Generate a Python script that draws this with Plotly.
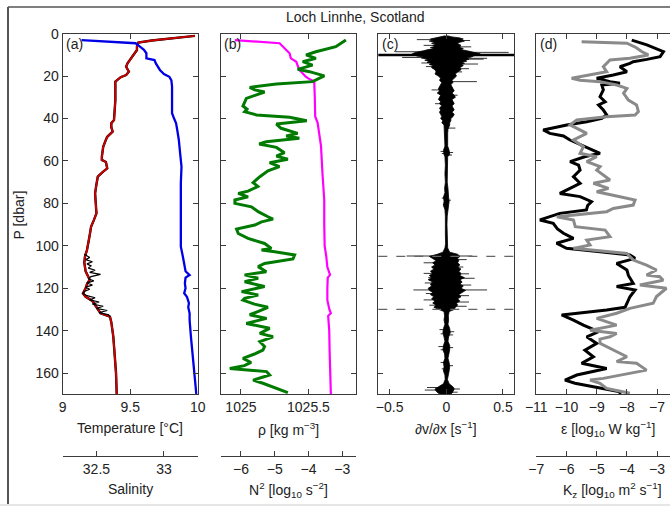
import plotly.graph_objects as go

# ---------------- data ----------------
# Panel (a): temperature and salinity vs pressure
T_P = [1.0, 1.8, 2.4, 3.2, 4.2, 6, 7.7, 9.5, 10.8, 12.4, 14, 15.6, 17.9, 19.5, 20.5, 21.5, 22.6, 31.3,
       40.7, 42.2, 44, 46.2, 47.5, 48.6, 50, 53.3, 58, 59.5, 60.5, 63.5, 65, 67.4, 71, 75.3, 80, 84.7,
       88, 91, 95, 98.8, 102, 105, 108, 112, 116, 118, 120, 122.4, 124, 126, 128, 130, 131.8, 133.4,
       136, 142.9, 150, 160, 170]
T_val = [9.98, 9.85, 9.76, 9.66, 9.56, 9.55, 9.55, 9.53, 9.52, 9.50, 9.48, 9.47, 9.49, 9.47, 9.43, 9.41,
         9.39, 9.39, 9.38, 9.36, 9.36, 9.37, 9.35, 9.33, 9.32, 9.30, 9.29, 9.29, 9.32, 9.33, 9.30, 9.26,
         9.25, 9.24, 9.245, 9.25, 9.23, 9.21, 9.20, 9.19, 9.18, 9.165, 9.16, 9.17, 9.20, 9.18, 9.17, 9.15,
         9.17, 9.22, 9.24, 9.26, 9.28, 9.35, 9.36, 9.375, 9.385, 9.395, 9.40]
TB_P = [104, 105.5, 106.5, 107.5, 108.5, 109.5, 110.5, 111.5, 112.5, 113.5, 114.5, 115.5, 116.5, 117.5,
        118.5, 119.5, 120.5, 121.5, 122.5, 123.5, 124.5, 125.5, 126.5, 127.5, 128.5, 129.5, 130.5,
        131.5, 132.5, 133.5]
TB_val = [9.16, 9.20, 9.17, 9.22, 9.18, 9.21, 9.19, 9.24, 9.20, 9.28, 9.21, 9.19, 9.23, 9.18, 9.22,
          9.17, 9.20, 9.16, 9.15, 9.18, 9.24, 9.20, 9.27, 9.22, 9.30, 9.25, 9.33, 9.27, 9.34, 9.35]
S_P = [3.0, 3.7, 4.5, 6, 7.5, 9.2, 10.5, 11.6, 12.4, 14, 17.1, 19, 20.3, 22, 25, 30, 37.5, 40, 42.2, 46,
       50, 56.4, 62.7, 70.5, 80, 90, 100.4, 105, 109, 112, 113.8, 115, 117.7, 120, 122.4, 124, 127, 129,
       131.8, 135, 142.9, 150, 160, 170]
S_val = [32.39, 32.60, 32.79, 32.82, 32.85, 32.87, 32.87, 32.87, 32.93, 32.94, 32.97, 33.00, 33.04,
         33.055, 33.06, 33.06, 33.06, 33.075, 33.09, 33.10, 33.11, 33.12, 33.13, 33.125, 33.125, 33.125,
         33.125, 33.14, 33.15, 33.16, 33.19, 33.16, 33.155, 33.16, 33.15, 33.17, 33.185, 33.18, 33.19,
         33.19, 33.20, 33.21, 33.225, 33.24]

# Panel (b): density and N^2
R_P = [3, 3.6, 4.5, 6, 8, 9.2, 11.6, 13.2, 15, 17.1, 18.5, 20.3, 21.5, 22.6, 30, 39, 42, 53, 66, 78.4,
       90, 100, 105, 110, 113.7, 115, 120, 125.6, 130, 131.8, 133, 140, 150, 160, 170]
R_val = [1024.955, 1025.10, 1025.286, 1025.31, 1025.34, 1025.36, 1025.37, 1025.41, 1025.42, 1025.433,
         1025.455, 1025.48, 1025.51, 1025.543, 1025.547, 1025.55, 1025.568, 1025.593, 1025.604, 1025.617,
         1025.617, 1025.62, 1025.632, 1025.64, 1025.66, 1025.643, 1025.64, 1025.64, 1025.655, 1025.666,
         1025.646, 1025.654, 1025.657, 1025.661, 1025.666]
N2_P = [3.0, 6.1, 8.5, 10.0, 11.6, 13.2, 14.8, 16.8, 17.9, 19.9, 22.6, 23.7, 25.3, 26.5, 27.5, 28.9, 30.5,
        34.1, 35.6, 36.8, 38.3, 39.4, 41.0, 42.6, 44.6, 47.0, 48.2, 49.3, 50.9, 52.0, 53.6, 56.1, 57.7,
        59.2, 60.8, 62.7, 64.6, 67.4, 70.2, 72.0, 74.2, 75.3, 76.9, 78.4, 80.0, 81.6, 83.9, 86.3, 87.4,
        88.7, 90.2, 92.1, 94.2, 96.5, 98.9, 101.2, 102.0, 102.8, 104.3, 106.2, 108.3, 109.8, 112.2, 113.7,
        115.3, 116.9, 119.2, 121.6, 123.2, 124.8, 125.6, 127.5, 129.0, 131.0, 132.5, 134.2, 136.6, 138.9,
        141.3, 142.9, 145.2, 147.5, 149.2, 151.0, 153.1, 155.0, 156.5, 157.8, 159.3, 160.9, 163.3, 164.8,
        166.7, 169.2]
N2_val = [-2.89, -3.19, -3.78, -4.07, -3.78, -4.17, -3.88, -4.32, -3.97, -3.53, -3.88, -4.95, -5.74,
          -5.59, -5.30, -5.54, -5.84, -5.94, -5.82, -5.89, -5.54, -4.56, -4.05, -4.95, -4.81, -4.32, -4.66,
          -4.27, -5.25, -5.46, -4.95, -4.71, -4.95, -4.61, -5.15, -4.86, -5.20, -5.44, -5.64, -5.50, -5.79,
          -6.08, -5.79, -6.18, -6.18, -5.69, -5.49, -5.20, -5.05, -5.39, -5.59, -6.13, -6.08, -5.79, -5.30,
          -5.10, -5.39, -5.00, -4.41, -4.46, -5.30, -5.49, -5.25, -5.89, -5.49, -5.89, -5.30, -5.98, -5.49,
          -5.89, -5.94, -5.60, -5.20, -5.50, -5.74, -5.24, -5.84, -5.15, -5.44, -5.05, -5.44, -5.30, -5.35,
          -5.60, -5.94, -5.70, -5.90, -6.33, -5.24, -5.15, -5.64, -5.35, -5.05, -4.61]

# Panel (c): dv/dx envelope (left / right extent of the dense trace) and isolated spikes
C_P = [1.0, 1.5, 2.0, 2.5, 3.0, 3.5, 4.0, 4.5, 5.0, 5.5, 6.0, 6.5, 7.0, 7.5, 8.0, 8.5, 9.0, 9.5, 10.5,
       11.0, 11.5, 12.0, 12.5, 13.0, 13.5, 14.0, 14.5, 15.0, 16.0, 17.0, 18.0, 19.0, 20.0, 21.0, 22.0,
       23.0, 24.0, 25.0, 26.0, 27.0, 28.0, 29.0, 30.0, 31.0, 32.0, 33.0, 34.0, 35.0, 36.0, 37.0, 38.0,
       39.0, 40.0, 41.0, 42.0, 43.0, 45.0, 47.0, 50.0, 53.0, 55.0, 57.0, 58.0, 62.0, 66.0, 70.0, 73.0,
       75.0, 77.0, 79.0, 81.0, 83.0, 86.0, 90.0, 95.0, 99.0, 101.0, 103.0, 104.0, 105.0, 106.0, 107.0,
       108.0, 109.0, 110.0, 111.0, 112.0, 113.0, 114.0, 115.0, 116.0, 117.0, 118.0, 119.0, 120.0, 121.0,
       122.0, 123.0, 124.0, 125.0, 126.0, 127.0, 128.0, 129.0, 130.0, 131.0, 133.0, 135.0, 137.0, 139.0,
       141.0, 143.0, 145.0, 147.0, 149.0, 151.0, 153.0, 155.0, 157.0, 159.0, 161.0, 163.0, 165.0, 166.5,
       167.5, 168.5, 169.5, 170.0]
C_lo = [-0.01, -0.06, -0.10, -0.14, -0.12, -0.15, -0.10, -0.13, -0.09, -0.12, -0.10, -0.14, -0.11, -0.16,
        -0.20, -0.25, -0.28, -0.30, -0.26, -0.20, -0.22, -0.16, -0.19, -0.15, -0.17, -0.13, -0.15, -0.12,
        -0.13, -0.10, -0.09, -0.10, -0.07, -0.05, -0.06, -0.04, -0.05, -0.06, -0.07, -0.06, -0.08, -0.05,
        -0.06, -0.07, -0.05, -0.06, -0.04, -0.06, -0.05, -0.06, -0.05, -0.04, -0.05, -0.03, -0.04, -0.02,
        -0.015, -0.012, -0.015, -0.012, -0.025, -0.02, -0.012, -0.008, -0.012, -0.008, -0.015, -0.012,
        -0.025, -0.02, -0.025, -0.012, -0.008, -0.006, -0.008, -0.006, -0.012, -0.03, -0.08, -0.15, -0.12,
        -0.09, -0.12, -0.10, -0.13, -0.11, -0.14, -0.12, -0.15, -0.13, -0.16, -0.12, -0.14, -0.13, -0.16,
        -0.15, -0.12, -0.14, -0.11, -0.13, -0.10, -0.12, -0.09, -0.11, -0.06, -0.02, -0.015, -0.02, -0.012,
        -0.025, -0.03, -0.02, -0.012, -0.025, -0.03, -0.015, -0.012, -0.025, -0.02, -0.025, -0.012, -0.01,
        -0.025, -0.07, -0.1, -0.09, -0.07, -0.04]
C_hi = [0.01, 0.05, 0.12, 0.15, 0.13, 0.16, 0.12, 0.10, 0.11, 0.13, 0.12, 0.12, 0.15, 0.13, 0.18, 0.23,
        0.25, 0.30, 0.24, 0.22, 0.18, 0.20, 0.17, 0.18, 0.14, 0.16, 0.13, 0.15, 0.12, 0.13, 0.10, 0.08,
        0.09, 0.07, 0.05, 0.06, 0.04, 0.05, 0.06, 0.07, 0.05, 0.07, 0.08, 0.05, 0.06, 0.07, 0.05, 0.06,
        0.07, 0.05, 0.07, 0.06, 0.04, 0.04, 0.03, 0.03, 0.015, 0.012, 0.015, 0.012, 0.025, 0.03, 0.012,
        0.01, 0.008, 0.008, 0.015, 0.015, 0.02, 0.025, 0.02, 0.012, 0.008, 0.006, 0.008, 0.008, 0.012,
        0.03, 0.10, 0.12, 0.10, 0.11, 0.10, 0.12, 0.10, 0.13, 0.11, 0.13, 0.12, 0.16, 0.12, 0.14, 0.12,
        0.15, 0.13, 0.17, 0.14, 0.11, 0.13, 0.10, 0.12, 0.09, 0.10, 0.08, 0.07, 0.025, 0.018, 0.02, 0.015,
        0.03, 0.035, 0.02, 0.015, 0.03, 0.03, 0.02, 0.015, 0.025, 0.03, 0.025, 0.015, 0.01, 0.025, 0.06,
        0.07, 0.06, 0.05, 0.03]
SP_P = [2.8, 3.2, 5.5, 6.2, 8.5, 8.8, 11.2, 11.6, 12.0, 13.8, 14.3, 15.5, 16.5, 18.0, 22.6, 26.5, 29.0,
        33.0, 44.5, 55.5, 56.0, 56.5, 57.2, 77.5, 78.5, 80.5, 104.8, 104.8, 106.5, 108.0, 110.0, 113.0,
        113.2, 115.0, 115.3, 117.5, 118.5, 120.8, 120.8, 122.5, 123.5, 125.5, 126.5, 128.0, 128.5, 139.5,
        140.5, 141.5, 142.0, 147.5, 148.0, 149.0, 155.0, 156.5, 158.0, 166.8, 167.5, 168.0, 169.0]
SP_val = [-0.26, 0.21, -0.20, 0.22, -0.45, 0.55, -0.39, 0.36, 0.33, -0.22, 0.28, -0.18, 0.20, 0.14, 0.27,
          -0.13, 0.10, -0.10, 0.08, -0.05, 0.06, -0.04, 0.05, -0.04, 0.04, -0.03, -0.35, 0.23, 0.18, -0.20,
          0.15, -0.20, 0.20, -0.16, 0.25, -0.19, 0.22, -0.29, 0.36, -0.18, 0.20, -0.20, 0.20, -0.15, 0.18,
          -0.06, 0.07, -0.05, 0.06, -0.07, 0.06, -0.05, -0.05, 0.06, -0.04, -0.17, 0.12, -0.19, 0.10]
BIG_P = [10.0, 10.0]
BIG_val = [-0.7, 0.7]
DASH_P = [105, 130]

# Panel (d): dissipation (black) and diffusivity (grey)
E_P = [3.0, 5.3, 8.5, 10.8, 12.1, 13.2, 14.0, 15.6, 17.9, 19.5, 21.0, 22.6, 23.4, 24.2, 26.5, 29.7, 32.1,
       33.6, 36.0, 38.3, 39.9, 41.5, 43.0, 45.4, 47.0, 48.2, 50, 52, 54, 56.4, 58, 60.3, 62, 64.3, 67.4,
       70.5, 73, 75.3, 76.8, 79.2, 81, 83.1, 84.7, 87.8, 89.4, 92, 94.1, 96.5, 98.8, 101.2, 102.8, 104.3,
       105.9, 108.3, 111.4, 114, 117.7, 119.2, 120.8, 124, 127.1, 129, 130.3, 132.6, 135, 137.4, 140.5,
       142.9, 146, 149.2, 152.3, 155.4, 157.8, 160.9, 163.3, 164.8, 166.4, 168.8, 170.3]
E_val = [-7.84, -7.34, -6.79, -6.90, -7.34, -7.79, -7.90, -8.23, -8.00, -8.45, -9.00, -8.56, -8.23, -8.83,
         -8.78, -8.89, -8.72, -8.94, -8.78, -8.67, -8.83, -9.33, -9.99, -10.77, -10.55, -10.10, -9.90,
         -9.60, -9.30, -8.89, -9.40, -9.88, -9.60, -9.55, -9.77, -9.55, -9.90, -10.22, -9.55, -9.17, -9.30,
         -9.34, -10.22, -10.88, -10.44, -10.30, -10.10, -9.77, -10.33, -10.00, -8.89, -7.90, -7.73, -8.34,
         -8.00, -7.95, -7.79, -8.34, -7.73, -7.90, -8.00, -8.06, -8.67, -10.16, -9.77, -9.44, -8.94, -9.33,
         -9.00, -9.39, -9.11, -9.50, -8.67, -9.66, -10.05, -9.72, -9.11, -8.23, -8.23]
K_P = [3.8, 4.5, 6.5, 8.5, 10.0, 11.6, 12.4, 15.6, 17.9, 20.3, 21.0, 21.9, 22.6, 24.2, 25.8, 28.1, 31.3,
       33.6, 36.7, 38.3, 39.1, 40.7, 43.0, 47.0, 50.1, 53.3, 56.4, 58, 60.3, 62.7, 64.3, 69, 70.5, 72.9,
       74.5, 76.9, 78.4, 80.8, 82.4, 83.9, 86.3, 87.8, 91, 92.6, 95.7, 97.3, 99.6, 101.2, 103.6, 106.7,
       109.1, 111.4, 113.8, 114.6, 116.2, 118.5, 120.0, 123.9, 127.1, 129.5, 131.8, 134.2, 135.8, 137.4,
       139.8, 141.3, 142.9, 144, 146, 149.2, 152.3, 154.6, 155.4, 158.6, 162.5, 163.3, 164.8, 167.2, 169.5]
K_val = [-5.50, -4.00, -3.70, -3.50, -3.29, -3.90, -4.56, -4.78, -4.67, -5.55, -5.83, -5.55, -4.89, -4.34,
         -4.00, -4.11, -3.95, -3.68, -3.62, -3.73, -4.67, -5.66, -5.88, -5.33, -5.77, -5.44, -5.55, -5.00,
         -5.33, -4.89, -5.00, -4.56, -5.11, -4.61, -5.00, -4.23, -3.73, -3.79, -4.45, -4.67, -6.32, -5.77,
         -5.71, -4.72, -4.56, -5.33, -5.22, -5.77, -4.00, -3.79, -3.35, -3.02, -3.35, -2.91, -2.80, -3.57,
         -2.69, -3.02, -3.13, -3.90, -4.34, -5.00, -4.67, -4.34, -5.22, -4.34, -4.56, -4.89, -4.89, -4.45,
         -4.00, -4.34, -3.68, -3.35, -4.78, -5.22, -4.89, -4.67, -3.90]

P_ticks = [0, 20, 40, 60, 80, 100, 120, 140, 160]
X_ticks = [[9, 9.5, 10], [1025, 1025.5], [-0.5, 0, 0.5], [-11, -10, -9, -8, -7]]
X_ticktext = [["9", "9.5", "10"], ["1025", "1025.5"], ["−0.5", "0", "0.5"],
              ["−11", "−10", "−9", "−8", "−7"]]

# ---------------- layout helpers ----------------
W, H = 670, 506
def fx(px):
    return px / W
def fy(py):
    return 1 - py / H

FONT = "Liberation Sans, Arial, Helvetica, sans-serif"
AX = "#3a3a3a"
YDOM = [fy(394.3), fy(33.7)]
SEC_POS = fy(455.7)

fig = go.Figure()

# (a)
fig.add_trace(go.Scatter(x=T_val, y=T_P, xaxis="x", yaxis="y", mode="lines",
                         line=dict(color="#000000", width=2.4), showlegend=False))
fig.add_trace(go.Scatter(x=T_val, y=T_P, xaxis="x", yaxis="y", mode="lines",
                         line=dict(color="#cc0000", width=1.9), showlegend=False))
fig.add_trace(go.Scatter(x=TB_val, y=TB_P, xaxis="x", yaxis="y", mode="lines",
                         line=dict(color="#000000", width=1.2), showlegend=False))
fig.add_trace(go.Scatter(x=S_val, y=S_P, xaxis="x5", yaxis="y", mode="lines",
                         line=dict(color="#0000e6", width=2.3), showlegend=False))
# (b)
fig.add_trace(go.Scatter(x=N2_val, y=N2_P, xaxis="x6", yaxis="y2", mode="lines",
                         line=dict(color="#007a00", width=3), showlegend=False))
fig.add_trace(go.Scatter(x=R_val, y=R_P, xaxis="x2", yaxis="y2", mode="lines",
                         line=dict(color="#ff00ff", width=2.2), showlegend=False))
# (c)
fig.add_trace(go.Scatter(x=C_hi + C_lo[::-1], y=C_P + C_P[::-1], xaxis="x3", yaxis="y3",
                         mode="lines", fill="toself", fillcolor="#000000",
                         line=dict(color="#000000", width=0.8), showlegend=False))
sx, sy = [], []
for p, v in zip(SP_P, SP_val):
    sx += [0, v, None]
    sy += [p, p, None]
fig.add_trace(go.Scatter(x=sx, y=sy, xaxis="x3", yaxis="y3", mode="lines",
                         line=dict(color="#000000", width=0.8), showlegend=False))
fig.add_trace(go.Scatter(x=BIG_val, y=BIG_P, xaxis="x3", yaxis="y3", mode="lines",
                         line=dict(color="#000000", width=2.5), showlegend=False))
# (d)
fig.add_trace(go.Scatter(x=K_val, y=K_P, xaxis="x7", yaxis="y4", mode="lines",
                         line=dict(color="#8a8a8a", width=3), showlegend=False))
fig.add_trace(go.Scatter(x=E_val, y=E_P, xaxis="x4", yaxis="y4", mode="lines",
                         line=dict(color="#000000", width=3), showlegend=False))

common = dict(showgrid=False, zeroline=False, showline=True, linecolor=AX, linewidth=1,
              automargin=False, ticks="inside", ticklen=5, tickcolor=AX,
              tickfont=dict(family=FONT, size=14, color="#222"))

xdoms = [[fx(62.7), fx(197.7)], [fx(220.7), fx(355.7)], [fx(378.3), fx(514.3)], [fx(536.3), 1.0]]
ranges = [[9, 10], [1024.85, 1025.85], [-0.6, 0.6], [-11, -11 + (670 - 536.3) / 30.2]]
for i in range(4):
    n = "" if i == 0 else str(i + 1)
    fig.layout["xaxis" + n] = dict(common, domain=xdoms[i], range=ranges[i], anchor="y" + n,
                                   mirror="ticks", tickmode="array", tickvals=X_ticks[i],
                                   ticktext=X_ticktext[i])
    yd = dict(common, domain=YDOM, range=[170, 0], anchor="x" + n, tickmode="array",
              tickvals=P_ticks, mirror="ticks" if i < 3 else False)
    if i > 0:
        yd.update(matches="y", showticklabels=False)
    fig.layout["yaxis" + n] = yd

sec = dict(common, anchor="free", position=SEC_POS, side="bottom", mirror=False, tickmode="array")
fig.layout["xaxis5"] = dict(sec, overlaying="x", range=[32.25, 33.25], tickvals=[32.5, 33],
                            ticktext=["32.5", "33"])
fig.layout["xaxis6"] = dict(sec, overlaying="x2", range=[-6.6, -2.6], tickvals=[-6, -5, -4, -3],
                            ticktext=["−6", "−5", "−4", "−3"])
fig.layout["xaxis7"] = dict(sec, overlaying="x4", range=[-7, -7 + (670 - 536.3) / 30.2],
                            tickvals=[-7, -6, -5, -4, -3], ticktext=["−7", "−6", "−5", "−4", "−3"])

shapes = []
for p in DASH_P:
    shapes.append(dict(type="line", xref="x3 domain", yref="y3", x0=0, x1=1, y0=p, y1=p,
                       line=dict(color="#666666", width=1.2, dash="dash")))
# figure frame (left / top edges) and bottom strip
shapes.append(dict(type="line", xref="paper", yref="paper", x0=fx(8), x1=fx(8), y0=0, y1=fy(7),
                   line=dict(color="#555555", width=2)))
shapes.append(dict(type="line", xref="paper", yref="paper", x0=fx(8), x1=1, y0=fy(7), y1=fy(7),
                   line=dict(color="#555555", width=1.5)))
shapes.append(dict(type="rect", xref="paper", yref="paper", x0=0, x1=1, y0=0, y1=fy(504),
                   line=dict(width=0), fillcolor="#e6e6e6"))
fig.update_layout(shapes=shapes)

def ann(text, x, y, xanchor="center", size=14, angle=0):
    return dict(text=text, x=fx(x), y=fy(y), xref="paper", yref="paper", xanchor=xanchor,
                yanchor="middle", showarrow=False, textangle=angle,
                font=dict(family=FONT, size=size, color="#222"))

anns = [
    ann("Loch Linnhe, Scotland", 355, 17),
    ann("(a)", 64, 44, "left"), ann("(b)", 222, 44, "left"),
    ann("(c)", 380, 44, "left"), ann("(d)", 538, 44, "left"),
    ann("Temperature [°C]", 130, 428),
    ann("ρ [kg m<sup>−3</sup>]", 288, 429),
    ann("∂v/∂x [s<sup>−1</sup>]", 446, 428),
    ann("ε [log<sub>10</sub> W kg<sup>−1</sup>]", 608, 429),
    ann("Salinity", 130, 489),
    ann("N<sup>2</sup> [log<sub>10</sub> s<sup>−2</sup>]", 288, 490),
    ann("K<sub>z</sub> [log<sub>10</sub> m<sup>2</sup> s<sup>−1</sup>]", 612, 490),
    ann("P [dbar]", 18.5, 215, angle=-90),
]
fig.update_layout(annotations=anns, width=W, height=H, margin=dict(l=0, r=0, t=0, b=0, pad=0),
                  autosize=False, template="none",
                  paper_bgcolor="white", plot_bgcolor="white", showlegend=False,
                  font=dict(family=FONT, size=14, color="#222"))

fig.write_html("out.html", config={"displayModeBar": False},
               post_script="document.body.style.margin='0';")
